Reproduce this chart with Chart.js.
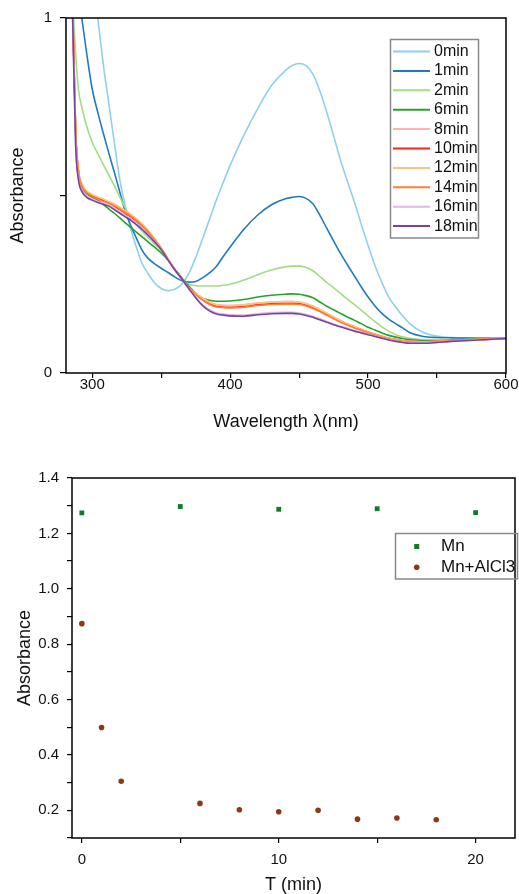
<!DOCTYPE html>
<html>
<head>
<meta charset="utf-8">
<script src="https://cdn.jsdelivr.net/npm/chart.js@4.4.0/dist/chart.umd.min.js"></script>
<style>
  html, body { margin: 0; padding: 0; background: #fff; }
  #wrap { position: relative; width: 519px; height: 894px; }
  canvas { position: absolute; left: 0; }
  #spectraChart { top: 0; }
  #kineticsChart { top: 440px; }
</style>
</head>
<body>
<div id="wrap">
  <canvas id="spectraChart" width="519" height="440"></canvas>
  <canvas id="kineticsChart" width="519" height="454"></canvas>
</div>
<script>
// top panel: UV-vis spectra over time
const wavelengths = [281, 284, 286, 288, 290, 293, 296, 300, 304, 308, 312, 316, 320, 324, 328, 332, 336, 340, 345, 350,
  355, 360, 365, 370, 375, 380, 385, 390,
  395, 400, 410, 420, 430, 440, 445, 450, 455, 460, 465, 470, 475, 480, 485, 490, 495, 500, 505, 510, 515, 520, 525, 530,
  540, 550, 560, 580, 600];
const spectraLabels = ['0min', '1min', '2min', '6min', '8min', '10min', '12min', '14min', '16min', '18min'];
const spectraColors = ['#8fd0f0', '#1f7bbf', '#a3dc85', '#22a52a', '#ffb3b3', '#ff2222', '#ffc27a', '#ff8030', '#dcb8e2', '#7d3fa0'];

const abs0min = [1.64, 1.56, 1.5, 1.45, 1.39, 1.31, 1.22, 1.11, 1.0, 0.87, 0.76, 0.65, 0.545, 0.47, 0.405, 0.355, 0.31, 0.283, 0.255, 0.238,
  0.232, 0.236, 0.25, 0.28, 0.325, 0.378, 0.432, 0.487,
  0.537, 0.585, 0.67, 0.745, 0.81, 0.852, 0.866, 0.872, 0.866, 0.842, 0.795, 0.735, 0.668, 0.6, 0.54, 0.483, 0.42, 0.36, 0.303, 0.255, 0.214, 0.186, 0.161, 0.14,
  0.114, 0.104, 0.1, 0.099, 0.098];
const abs1min = [1.5, 1.38, 1.29, 1.18, 1.07, 0.985, 0.9, 0.8, 0.735, 0.676, 0.62, 0.566, 0.51, 0.455, 0.415, 0.38, 0.347, 0.325, 0.308, 0.295,
  0.283, 0.27, 0.26, 0.256, 0.258, 0.268, 0.282, 0.3,
  0.328, 0.355, 0.405, 0.445, 0.474, 0.491, 0.495, 0.497, 0.492, 0.477, 0.445, 0.408, 0.372, 0.337, 0.305, 0.274, 0.243, 0.214, 0.189, 0.168, 0.152, 0.139, 0.127, 0.114,
  0.103, 0.1, 0.099, 0.098, 0.098];
const abs2min = [1.6, 1.25, 1.04, 0.9, 0.8, 0.74, 0.695, 0.65, 0.618, 0.588, 0.558, 0.528, 0.496, 0.465, 0.44, 0.418, 0.4, 0.385, 0.365, 0.345,
  0.318, 0.29, 0.265, 0.25, 0.246, 0.245, 0.245, 0.245,
  0.247, 0.25, 0.262, 0.277, 0.29, 0.299, 0.301, 0.301, 0.297, 0.288, 0.272, 0.255, 0.24, 0.224, 0.208, 0.193, 0.177, 0.161, 0.145, 0.13, 0.118, 0.108, 0.102, 0.098,
  0.094, 0.094, 0.094, 0.096, 0.098];
const abs6min = [2.0, 1.32, 1.0, 0.68, 0.565, 0.52, 0.505, 0.495, 0.487, 0.475, 0.462, 0.45, 0.437, 0.423, 0.41, 0.397, 0.384, 0.371, 0.355, 0.338,
  0.318, 0.292, 0.268, 0.245, 0.225, 0.211, 0.205, 0.202,
  0.202, 0.203, 0.207, 0.214, 0.219, 0.222, 0.223, 0.222, 0.218, 0.212, 0.2, 0.188, 0.178, 0.168, 0.158, 0.149, 0.139, 0.129, 0.121, 0.113, 0.106, 0.101, 0.097, 0.094,
  0.091, 0.091, 0.092, 0.095, 0.097];
const abs8min = [2.0, 1.32, 1.0, 0.68, 0.57, 0.525, 0.51, 0.5, 0.493, 0.487, 0.48, 0.472, 0.463, 0.453, 0.443, 0.431, 0.417, 0.4, 0.377, 0.351,
  0.32, 0.29, 0.265, 0.241, 0.224, 0.211, 0.2, 0.193,
  0.191, 0.19, 0.192, 0.197, 0.2, 0.201, 0.201, 0.2, 0.196, 0.189, 0.179, 0.169, 0.158, 0.148, 0.139, 0.131, 0.123, 0.116, 0.11, 0.104, 0.099, 0.095, 0.092, 0.09,
  0.088, 0.089, 0.091, 0.094, 0.097];
const abs10min = [2.0, 1.32, 1.0, 0.68, 0.57, 0.525, 0.51, 0.5, 0.492, 0.486, 0.478, 0.47, 0.46, 0.45, 0.44, 0.428, 0.414, 0.398, 0.375, 0.35,
  0.32, 0.29, 0.265, 0.24, 0.222, 0.207, 0.195, 0.188,
  0.186, 0.185, 0.187, 0.192, 0.195, 0.196, 0.196, 0.195, 0.191, 0.184, 0.175, 0.165, 0.155, 0.145, 0.137, 0.129, 0.122, 0.115, 0.109, 0.103, 0.098, 0.094, 0.091, 0.089,
  0.088, 0.089, 0.091, 0.094, 0.097];
const abs12min = [2.0, 1.33, 1.01, 0.69, 0.575, 0.53, 0.513, 0.503, 0.496, 0.49, 0.483, 0.476, 0.467, 0.457, 0.447, 0.435, 0.421, 0.404, 0.38, 0.353,
  0.321, 0.29, 0.264, 0.241, 0.224, 0.21, 0.199, 0.192,
  0.19, 0.19, 0.192, 0.197, 0.2, 0.201, 0.201, 0.2, 0.195, 0.188, 0.178, 0.168, 0.157, 0.147, 0.138, 0.13, 0.122, 0.115, 0.109, 0.103, 0.098, 0.094, 0.091, 0.089,
  0.088, 0.089, 0.091, 0.094, 0.097];
const abs14min = [2.0, 1.32, 1.0, 0.68, 0.568, 0.523, 0.508, 0.498, 0.49, 0.484, 0.478, 0.471, 0.462, 0.452, 0.442, 0.43, 0.416, 0.4, 0.377, 0.351,
  0.32, 0.29, 0.265, 0.24, 0.221, 0.205, 0.193, 0.186,
  0.184, 0.183, 0.185, 0.19, 0.193, 0.194, 0.194, 0.193, 0.189, 0.182, 0.173, 0.163, 0.153, 0.143, 0.135, 0.127, 0.12, 0.113, 0.107, 0.101, 0.096, 0.092, 0.089, 0.087,
  0.086, 0.088, 0.09, 0.094, 0.097];
const abs16min = [2.0, 1.3, 0.97, 0.645, 0.55, 0.512, 0.499, 0.49, 0.483, 0.478, 0.473, 0.464, 0.454, 0.444, 0.434, 0.422, 0.409, 0.393, 0.372, 0.349,
  0.318, 0.29, 0.265, 0.238, 0.213, 0.192, 0.178, 0.169,
  0.166, 0.164, 0.163, 0.167, 0.17, 0.171, 0.171, 0.169, 0.165, 0.16, 0.153, 0.145, 0.138, 0.132, 0.126, 0.12, 0.114, 0.109, 0.104, 0.099, 0.094, 0.09, 0.087, 0.085,
  0.085, 0.086, 0.089, 0.093, 0.097];
const abs18min = [2.0, 1.3, 0.97, 0.64, 0.545, 0.508, 0.495, 0.487, 0.48, 0.475, 0.47, 0.46, 0.45, 0.44, 0.43, 0.418, 0.405, 0.39, 0.37, 0.348,
  0.318, 0.29, 0.265, 0.238, 0.212, 0.19, 0.175, 0.166,
  0.163, 0.161, 0.16, 0.164, 0.167, 0.168, 0.168, 0.166, 0.162, 0.157, 0.15, 0.143, 0.136, 0.13, 0.124, 0.118, 0.113, 0.108, 0.103, 0.098, 0.093, 0.089, 0.086, 0.084,
  0.084, 0.086, 0.089, 0.093, 0.097];
const spectraSeries = [abs0min, abs1min, abs2min, abs6min, abs8min, abs10min, abs12min, abs14min, abs16min, abs18min];

const wavelengthTicks = [300, 350, 400, 450, 500, 550, 600];
const absorbanceTicks = [0, 0.5, 1];

// bottom panel: absorbance vs time
const timeMn = [0, 5, 10, 15, 20];
const absMn = [1.274, 1.297, 1.287, 1.289, 1.275];
const timeMnAl = [0, 1, 2, 6, 8, 10, 12, 14, 16, 18];
const absMnAl = [0.874, 0.499, 0.305, 0.225, 0.202, 0.195, 0.2, 0.168, 0.172, 0.166];
const timeTicks = [0, 5, 10, 15, 20];
const absTicks2 = [0.1, 0.2, 0.3, 0.4, 0.5, 0.6, 0.7, 0.8, 0.9, 1.0, 1.1, 1.2, 1.3, 1.4];

Chart.defaults.font.family = '"Liberation Sans", Arial, sans-serif';
Chart.defaults.color = '#111';

// draws the box round the plot and a legend inside it
const frameLegend = {
    id: 'frameLegend',
    afterDraw(chart, args, opts) {
        const ctx = chart.ctx;
        const a = chart.chartArea;
        ctx.save();
        ctx.strokeStyle = '#000';
        ctx.lineWidth = 1.5;
        ctx.strokeRect(a.left, a.top, a.right - a.left, a.bottom - a.top);

        ctx.strokeStyle = '#888';
        ctx.lineWidth = 1.5;
        ctx.strokeRect(opts.x, opts.y, opts.w, opts.h);
        ctx.font = opts.fontSize + 'px "Liberation Sans", Arial, sans-serif';
        ctx.textBaseline = 'middle';
        ctx.fillStyle = '#111';
        chart.data.datasets.forEach(function (ds, i) {
            const y = opts.firstRow + i * opts.rowH;
            if (opts.kind === 'line') {
                ctx.strokeStyle = ds.borderColor;
                ctx.lineWidth = 2;
                ctx.beginPath();
                ctx.moveTo(opts.markX, y);
                ctx.lineTo(opts.markX2, y);
                ctx.stroke();
            } else {
                ctx.fillStyle = ds.backgroundColor;
                ctx.beginPath();
                if (ds.pointStyle === 'rect') {
                    ctx.rect(opts.markX - 2.5, y - 2.5, 5, 5);
                } else {
                    ctx.arc(opts.markX, y, 2.8, 0, Math.PI * 2);
                }
                ctx.fill();
            }
            ctx.fillStyle = '#111';
            ctx.fillText(ds.label, opts.textX, y);
        });
        ctx.restore();
    }
};

function axisGrid(len) {
    return { drawOnChartArea: false, drawTicks: true, tickLength: len, color: '#000', lineWidth: 1.2 };
}

document.addEventListener('DOMContentLoaded', function () {
    const ctx1 = document.getElementById('spectraChart').getContext('2d');
    const spectraChart = new Chart(ctx1, {
        type: 'line',
        data: {
            datasets: spectraSeries.map(function (vals, i) {
                return {
                    label: spectraLabels[i],
                    data: vals.map(function (v, j) { return { x: wavelengths[j], y: v }; }),
                    borderColor: spectraColors[i],
                    borderWidth: 1.6,
                    pointRadius: 0,
                    cubicInterpolationMode: 'monotone',
                    order: spectraSeries.length - i
                };
            })
        },
        options: {
            responsive: false,
            animation: false,
            layout: { padding: { top: 18, right: 13, left: 0, bottom: 0 } },
            scales: {
                x: {
                    type: 'linear',
                    min: 281,
                    max: 600,
                    afterBuildTicks: function (s) { s.ticks = wavelengthTicks.map(function (v) { return { value: v }; }); },
                    afterFit: function (s) { s.height = 67; },
                    grid: axisGrid(5),
                    border: { display: false },
                    ticks: {
                        autoSkip: false,
                        maxRotation: 0,
                        padding: -2,
                        font: { size: 15 },
                        callback: function (v) { return v % 100 === 0 ? String(v) : ''; }
                    },
                    title: { display: true, text: 'Wavelength λ(nm)', font: { size: 18 }, color: '#111', padding: { top: 0, bottom: 7 } }
                },
                y: {
                    min: 0,
                    max: 1,
                    afterBuildTicks: function (s) { s.ticks = absorbanceTicks.map(function (v) { return { value: v }; }); },
                    afterFit: function (s) { s.width = 66; },
                    grid: axisGrid(6),
                    border: { display: false },
                    ticks: {
                        padding: 8,
                        font: { size: 15 },
                        callback: function (v) { return (v === 0 || v === 1) ? String(v) : ''; }
                    },
                    title: { display: true, text: 'Absorbance', font: { size: 18 }, color: '#111', padding: { top: 7, bottom: 0 } }
                }
            },
            plugins: {
                legend: { display: false },
                tooltip: { enabled: false },
                frameLegend: { x: 390.5, y: 39.5, w: 88, h: 198.5, firstRow: 51.5, rowH: 19.4, markX: 393, markX2: 430, textX: 434, fontSize: 16, kind: 'line' }
            }
        },
        plugins: [frameLegend]
    });

    const ctx2 = document.getElementById('kineticsChart').getContext('2d');
    const kineticsChart = new Chart(ctx2, {
        type: 'scatter',
        data: {
            datasets: [{
                label: 'Mn',
                data: timeMn.map(function (t, j) { return { x: t, y: absMn[j] }; }),
                pointStyle: 'rect',
                pointRadius: 3.4,
                backgroundColor: '#117a2c',
                borderColor: '#117a2c',
                borderWidth: 0
            }, {
                label: 'Mn+AlCl3',
                data: timeMnAl.map(function (t, j) { return { x: t, y: absMnAl[j] }; }),
                pointStyle: 'circle',
                pointRadius: 2.8,
                backgroundColor: '#8b3a16',
                borderColor: '#8b3a16',
                borderWidth: 0
            }]
        },
        options: {
            responsive: false,
            animation: false,
            layout: { padding: { top: 38, right: 1, left: 0, bottom: 0 } },
            scales: {
                x: {
                    type: 'linear',
                    min: -0.5,
                    max: 22,
                    afterBuildTicks: function (s) { s.ticks = timeTicks.map(function (v) { return { value: v }; }); },
                    afterFit: function (s) { s.height = 56; },
                    grid: axisGrid(5),
                    border: { display: false },
                    ticks: {
                        autoSkip: false,
                        maxRotation: 0,
                        padding: 8,
                        font: { size: 15 },
                        callback: function (v) { return v % 10 === 0 ? String(v) : ''; }
                    },
                    title: { display: true, text: 'T (min)', font: { size: 18 }, color: '#111', padding: { top: 0, bottom: -2 } }
                },
                y: {
                    min: 0.1,
                    max: 1.4,
                    afterBuildTicks: function (s) { s.ticks = absTicks2.map(function (v) { return { value: v }; }); },
                    afterFit: function (s) { s.width = 72; },
                    grid: axisGrid(5),
                    border: { display: false },
                    ticks: {
                        autoSkip: false,
                        padding: 8,
                        font: { size: 15 },
                        callback: function (v) { return Math.round(v * 10) % 2 === 0 ? v.toFixed(1) : ''; }
                    },
                    title: { display: true, text: 'Absorbance', font: { size: 18 }, color: '#111', padding: { top: 14, bottom: 0 } }
                }
            },
            plugins: {
                legend: { display: false },
                tooltip: { enabled: false },
                frameLegend: { x: 395.5, y: 93.5, w: 122, h: 45.5, firstRow: 106.5, rowH: 20.7, markX: 416.7, textX: 441, fontSize: 17, kind: 'point' }
            }
        },
        plugins: [frameLegend]
    });
});
</script>
</body>
</html>
